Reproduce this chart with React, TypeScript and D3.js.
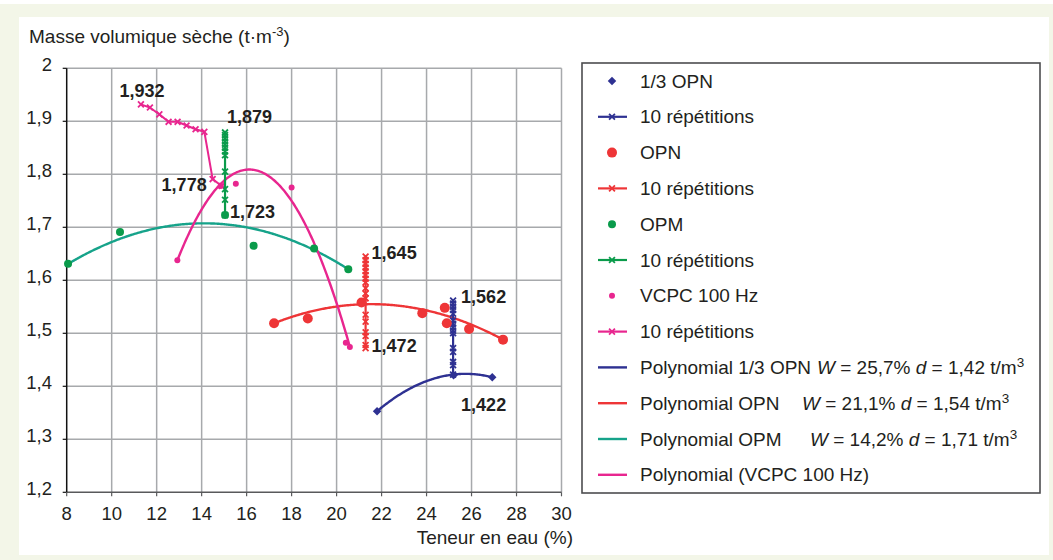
import React from 'react';
import * as d3 from 'd3';

// axes
const xTicks = [8, 10, 12, 14, 16, 18, 20, 22, 24, 26, 28, 30];
const yTicks = [1.2, 1.3, 1.4, 1.5, 1.6, 1.7, 1.8, 1.9, 2];
const yTickLabels = ['1,2', '1,3', '1,4', '1,5', '1,6', '1,7', '1,8', '1,9', '2'];

// 1/3 OPN
const tiersOpn: [number, number][] = [[21.8, 1.353], [25.2, 1.421], [26.92, 1.417]];
const tiersOpnRepX = 25.18;
const tiersOpnRepY = [1.562, 1.556, 1.55, 1.544, 1.537, 1.524, 1.518, 1.511, 1.505, 1.5, 1.472, 1.465, 1.446, 1.44, 1.422];

// OPN
const opn: [number, number][] = [[17.22, 1.519], [18.72, 1.528], [21.11, 1.558], [23.81, 1.538], [24.81, 1.548], [24.9, 1.519], [25.89, 1.508], [27.4, 1.488]];
const opnRepX = 21.29;
const opnRepY = [1.645, 1.638, 1.631, 1.624, 1.617, 1.61, 1.603, 1.596, 1.585, 1.575, 1.566, 1.535, 1.522, 1.502, 1.495, 1.478, 1.472];

// OPM
const opm: [number, number][] = [[8.06, 1.631], [10.37, 1.691], [15.04, 1.723], [16.31, 1.665], [19.0, 1.66], [20.52, 1.621]];
const opmRepX = 15.04;
const opmRepY = [1.879, 1.874, 1.868, 1.862, 1.856, 1.85, 1.843, 1.836, 1.805, 1.772, 1.752, 1.723];

// VCPC 100 Hz
const vcpc: [number, number][] = [[12.92, 1.638], [14.85, 1.778], [15.52, 1.782], [18.0, 1.775], [20.41, 1.482], [20.59, 1.474]];
const vcpcRep: [number, number][] = [[11.3, 1.932], [11.7, 1.926], [12.12, 1.913], [12.53, 1.899], [12.93, 1.899], [13.33, 1.892], [13.73, 1.885], [14.12, 1.88], [14.49, 1.791], [14.89, 1.778]];

// polynomial trend lines (vertex form): 1/3 OPN, OPN, OPM, VCPC
const trendW = [25.73, 21.53, 14.1, 16.12];
const trendD = [1.4235, 1.555, 1.7075, 1.809];
const trendA = [-0.00457, -0.00194, -0.0021, -0.01674];
const trendFrom = [21.8, 17.22, 8.06, 12.92];
const trendTo = [26.92, 27.4, 20.52, 20.59];

const labels = ['1,932', '1,879', '1,778', '1,723', '1,645', '1,472', '1,562', '1,422'];

const BLUE = '#2e3192';
const RED = '#ee3537';
const GREEN = '#0a9b4b';
const TEAL = '#16a38a';
const PINK = '#e8268f';
const INK = '#231f20';
const GRID = '#a7a9ac';
const FONT = '"Liberation Sans", Arial, Helvetica, sans-serif';

const x = d3.scaleLinear().domain([8, 30]).range([66.7, 561.5]);
const y = d3.scaleLinear().domain([1.2, 2]).range([492.3, 68.3]);

const line = d3.line<[number, number]>().x(d => x(d[0])).y(d => y(d[1]));
const cross = d3.symbol(d3.symbolX, 24)();
const diamond = d3.symbol(d3.symbolSquare, 36)();

function trendPath(i: number) {
  const pts: [number, number][] = d3.range(trendFrom[i], trendTo[i], 0.05)
    .concat([trendTo[i]])
    .map(w => [w, trendD[i] + trendA[i] * (w - trendW[i]) ** 2]);
  return line(pts) || '';
}

const Cross = ({ cx, cy, color }: { cx: number; cy: number; color: string }) => (
  <path d={cross} transform={`translate(${cx},${cy})`} stroke={color} strokeWidth={1.8} fill="none" />
);

const Diamond = ({ cx, cy }: { cx: number; cy: number }) => (
  <path d={diamond} transform={`translate(${cx},${cy}) rotate(45)`} fill={BLUE} />
);

const App = () => {
  const top = y(2), bottom = y(1.2), left = x(8), right = x(30);
  const tPt = (xv: number, yv: number) => [x(xv), y(yv)];

  const labelPos = [
    { p: tPt(11.3, 1.932), dx: 1, dy: -7, anchor: 'middle' },
    { p: tPt(opmRepX, 1.879), dx: 2, dy: -9, anchor: 'start' },
    { p: tPt(14.89, 1.778), dx: -15, dy: 5, anchor: 'end' },
    { p: tPt(opmRepX, 1.723), dx: 5, dy: 3, anchor: 'start' },
    { p: tPt(opnRepX, 1.645), dx: 6, dy: 3, anchor: 'start' },
    { p: tPt(opnRepX, 1.472), dx: 6, dy: 4, anchor: 'start' },
    { p: tPt(tiersOpnRepX, 1.562), dx: 8, dy: 3, anchor: 'start' },
    { p: tPt(tiersOpnRepX, 1.422), dx: 8, dy: 36, anchor: 'start' },
  ];

  const legendY = (i: number) => 81 + i * 35.8;
  const lx0 = 598, lx1 = 627, lmx = 612, ltx = 640;

  return (
    <svg width={1053} height={560} style={{ position: 'fixed', left: 0, top: 0 }} fontFamily={FONT}>
      <rect x={0} y={0} width={1053} height={560} fill="#f3f6e8" />
      <rect x={0} y={0} width={1053} height={4} fill="#fff" />
      <rect x={19} y={17} width={1030} height={538} fill="#fff" />

      {/* grid */}
      {xTicks.slice(1).map(t => (
        <line key={'gx' + t} x1={x(t)} x2={x(t)} y1={top} y2={bottom} stroke={GRID} strokeWidth={1.5} />
      ))}
      {yTicks.slice(1).map(t => (
        <line key={'gy' + t} x1={left} x2={right} y1={y(t)} y2={y(t)} stroke={GRID} strokeWidth={1.5} />
      ))}
      {/* axes */}
      <line x1={left} x2={right} y1={bottom} y2={bottom} stroke="#58595b" strokeWidth={1.5} />
      <line x1={left} x2={left} y1={top} y2={bottom} stroke="#111" strokeWidth={1.5} />
      {yTicks.map(t => (
        <line key={'ty' + t} x1={left - 4} x2={left} y1={y(t)} y2={y(t)} stroke="#111" strokeWidth={1.2} />
      ))}
      {xTicks.map(t => (
        <line key={'tx' + t} x1={x(t)} x2={x(t)} y1={bottom} y2={bottom + 4} stroke="#58595b" strokeWidth={1.2} />
      ))}
      {yTicks.map((t, i) => (
        <text key={'ly' + t} x={52} y={y(t) + 2.5} textAnchor="end" fontSize={18.5} fill={INK}>{yTickLabels[i]}</text>
      ))}
      {xTicks.map(t => (
        <text key={'lx' + t} x={x(t)} y={519.5} textAnchor="middle" fontSize={18.5} fill={INK}>{t}</text>
      ))}
      <text x={29} y={43} fontSize={19} fill={INK}>
        Masse volumique sèche (t·m<tspan dy={-7} fontSize={13}>-3</tspan><tspan dy={7}>)</tspan>
      </text>
      <text x={573} y={544} textAnchor="end" fontSize={19} fill={INK}>Teneur en eau (%)</text>

      {/* trend lines */}
      <path d={trendPath(2)} fill="none" stroke={TEAL} strokeWidth={2.4} />
      <path d={trendPath(1)} fill="none" stroke={RED} strokeWidth={2.4} />
      <path d={trendPath(0)} fill="none" stroke={BLUE} strokeWidth={2.4} />
      <path d={trendPath(3)} fill="none" stroke={PINK} strokeWidth={2.4} />

      {/* repetitions */}
      <path d={line(vcpcRep) || ''} fill="none" stroke={PINK} strokeWidth={2} />
      {vcpcRep.map((d, i) => <Cross key={'vr' + i} cx={x(d[0])} cy={y(d[1])} color={PINK} />)}
      <path d={line(opmRepY.map(v => [opmRepX, v] as [number, number])) || ''} fill="none" stroke={GREEN} strokeWidth={2.2} />
      {opmRepY.map((v, i) => <Cross key={'gr' + i} cx={x(opmRepX)} cy={y(v)} color={GREEN} />)}
      <path d={line(opnRepY.map(v => [opnRepX, v] as [number, number])) || ''} fill="none" stroke={RED} strokeWidth={2.2} />
      {opnRepY.map((v, i) => <Cross key={'rr' + i} cx={x(opnRepX)} cy={y(v)} color={RED} />)}
      <path d={line(tiersOpnRepY.map(v => [tiersOpnRepX, v] as [number, number])) || ''} fill="none" stroke={BLUE} strokeWidth={2.2} />
      {tiersOpnRepY.map((v, i) => <Cross key={'br' + i} cx={x(tiersOpnRepX)} cy={y(v)} color={BLUE} />)}

      {/* scatter points */}
      {opm.map((d, i) => <circle key={'g' + i} cx={x(d[0])} cy={y(d[1])} r={4} fill={GREEN} />)}
      {opn.map((d, i) => <circle key={'r' + i} cx={x(d[0])} cy={y(d[1])} r={5} fill={RED} />)}
      {tiersOpn.map((d, i) => <Diamond key={'b' + i} cx={x(d[0])} cy={y(d[1])} />)}
      {vcpc.map((d, i) => <circle key={'v' + i} cx={x(d[0])} cy={y(d[1])} r={3} fill={PINK} />)}

      {/* data labels */}
      {labels.map((s, i) => (
        <text key={'dl' + i} x={labelPos[i].p[0] + labelPos[i].dx} y={labelPos[i].p[1] + labelPos[i].dy}
          textAnchor={labelPos[i].anchor as any} fontSize={18} fontWeight="bold" fill={INK}>{s}</text>
      ))}

      {/* legend */}
      <rect x={582} y={63} width={458} height={430} fill="#fff" stroke="#4d4d4f" strokeWidth={1.6} />
      <g fontSize={19} fill={INK}>
        <Diamond cx={lmx} cy={legendY(0)} />
        <text x={ltx} y={legendY(0)} dy="0.35em">1/3 OPN</text>

        <line x1={lx0} x2={lx1} y1={legendY(1)} y2={legendY(1)} stroke={BLUE} strokeWidth={2.2} />
        <Cross cx={lmx} cy={legendY(1)} color={BLUE} />
        <text x={ltx} y={legendY(1)} dy="0.35em">10 répétitions</text>

        <circle cx={lmx} cy={legendY(2)} r={5} fill={RED} />
        <text x={ltx} y={legendY(2)} dy="0.35em">OPN</text>

        <line x1={lx0} x2={lx1} y1={legendY(3)} y2={legendY(3)} stroke={RED} strokeWidth={2.2} />
        <Cross cx={lmx} cy={legendY(3)} color={RED} />
        <text x={ltx} y={legendY(3)} dy="0.35em">10 répétitions</text>

        <circle cx={lmx} cy={legendY(4)} r={4} fill={GREEN} />
        <text x={ltx} y={legendY(4)} dy="0.35em">OPM</text>

        <line x1={lx0} x2={lx1} y1={legendY(5)} y2={legendY(5)} stroke={GREEN} strokeWidth={2.2} />
        <Cross cx={lmx} cy={legendY(5)} color={GREEN} />
        <text x={ltx} y={legendY(5)} dy="0.35em">10 répétitions</text>

        <circle cx={lmx} cy={legendY(6)} r={3} fill={PINK} />
        <text x={ltx} y={legendY(6)} dy="0.35em">VCPC 100 Hz</text>

        <line x1={lx0} x2={lx1} y1={legendY(7)} y2={legendY(7)} stroke={PINK} strokeWidth={2.2} />
        <Cross cx={lmx} cy={legendY(7)} color={PINK} />
        <text x={ltx} y={legendY(7)} dy="0.35em">10 répétitions</text>

        <line x1={lx0} x2={lx1} y1={legendY(8)} y2={legendY(8)} stroke={BLUE} strokeWidth={2.4} />
        <text x={ltx} y={legendY(8) + 6.5}>
          Polynomial 1/3 OPN
          <tspan x={817} fontStyle="italic">W</tspan><tspan> = 25,7% </tspan><tspan fontStyle="italic">d</tspan><tspan> = 1,42 t/m</tspan>
          <tspan dy={-7} fontSize={13.5}>3</tspan>
        </text>

        <line x1={lx0} x2={lx1} y1={legendY(9)} y2={legendY(9)} stroke={RED} strokeWidth={2.4} />
        <text x={ltx} y={legendY(9) + 6.5}>
          Polynomial OPN
          <tspan x={802} fontStyle="italic">W</tspan><tspan> = 21,1% </tspan><tspan fontStyle="italic">d</tspan><tspan> = 1,54 t/m</tspan>
          <tspan dy={-7} fontSize={13.5}>3</tspan>
        </text>

        <line x1={lx0} x2={lx1} y1={legendY(10)} y2={legendY(10)} stroke={TEAL} strokeWidth={2.4} />
        <text x={ltx} y={legendY(10) + 6.5}>
          Polynomial OPM
          <tspan x={810} fontStyle="italic">W</tspan><tspan> = 14,2% </tspan><tspan fontStyle="italic">d</tspan><tspan> = 1,71 t/m</tspan>
          <tspan dy={-7} fontSize={13.5}>3</tspan>
        </text>

        <line x1={lx0} x2={lx1} y1={legendY(11)} y2={legendY(11)} stroke={PINK} strokeWidth={2.4} />
        <text x={ltx} y={legendY(11)} dy="0.35em">Polynomial (VCPC 100 Hz)</text>
      </g>
    </svg>
  );
};

export default App;
